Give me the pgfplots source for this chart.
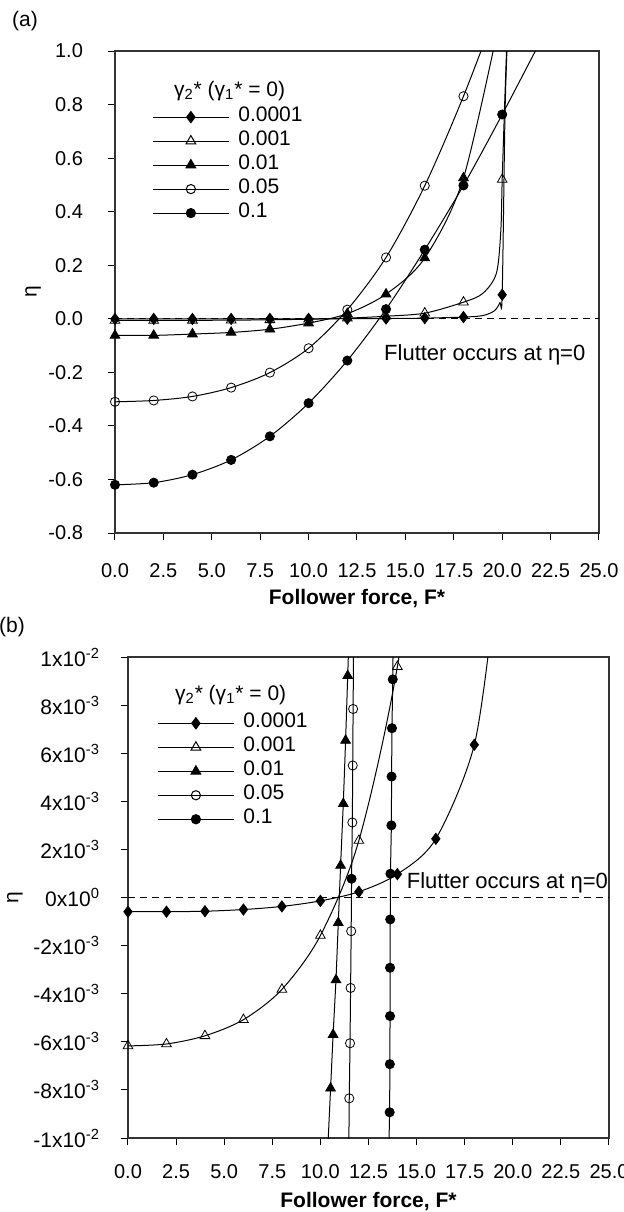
\documentclass[border=0pt]{standalone}
\usepackage{pgfplots}
\usepackage{pgfplotstable}
\pgfplotsset{compat=1.18}
\usepackage{fontspec}
\setmainfont{Liberation Sans}

% ---------------- panel (a) data ----------------
\pgfplotstableread{
F eta
0 -0.0006
2 -0.0006
4 -0.00057
6 -0.0005
8 -0.00037
10 -0.00014
12 0.00024
14 0.00097
16 0.00244
18 0.00635
20 0.0897
}\Aone
\pgfplotstableread{
F eta
0 -0.0006
2 -0.0006
4 -0.00057
6 -0.0005
8 -0.00037
10 -0.00014
12 0.00024
14 0.00097
16 0.00244
18 0.00635
19 0.012
19.6 0.03
19.88 0.06
20 0.0897
20.15 0.78
20.3 1.1
}\Aoneline
\pgfplotstableread{
F eta
0 -0.00617
2 -0.00609
4 -0.00575
6 -0.00508
8 -0.00382
10 -0.00158
12 0.00237
14 0.0096
16 0.021
18 0.062
20 0.52
}\Atwo
\pgfplotstableread{
F eta
0 -0.00617
2 -0.00609
4 -0.00575
6 -0.00508
8 -0.00382
10 -0.00158
12 0.00237
14 0.0096
16 0.021
18 0.062
19 0.095
19.7 0.17
19.93 0.33
20 0.52
20.15 0.85
20.3 1.15
}\Atwoline
\pgfplotstableread{
F eta
0 -0.062
2 -0.062
4 -0.057
6 -0.051
8 -0.039
10 -0.016
12 0.019
14 0.092
16 0.227
18 0.526
}\Athree
\pgfplotstableread{
F eta
0 -0.062
2 -0.062
4 -0.057
6 -0.051
8 -0.039
10 -0.016
12 0.019
14 0.092
16 0.227
18 0.526
20 1.16
}\Athreeline
\pgfplotstableread{
F eta
0 -0.310
2 -0.305
4 -0.290
6 -0.257
8 -0.201
10 -0.110
12 0.034
14 0.229
16 0.497
18 0.831
}\Afour
\pgfplotstableread{
F eta
0 -0.310
2 -0.305
4 -0.290
6 -0.257
8 -0.201
10 -0.110
12 0.034
14 0.229
16 0.497
18 0.831
20 1.21
}\Afourline
\pgfplotstableread{
F eta
0 -0.620
2 -0.612
4 -0.582
6 -0.527
8 -0.439
10 -0.315
12 -0.156
14 0.036
16 0.258
18 0.498
20 0.763
}\Afive
\pgfplotstableread{
F eta
0 -0.620
2 -0.612
4 -0.582
6 -0.527
8 -0.439
10 -0.315
12 -0.156
14 0.036
16 0.258
18 0.498
20 0.763
22 1.04
}\Afiveline

% ---------------- panel (b) data ----------------
\pgfplotstableread{
F eta
0 -0.00059
2 -0.00059
4 -0.00057
6 -0.00050
8 -0.00037
10 -0.00014
12 0.00024
14 0.00097
16 0.00244
18 0.00635
}\Bone
\pgfplotstableread{
F eta
0 -0.00059
2 -0.00059
4 -0.00057
6 -0.00050
8 -0.00037
10 -0.00014
12 0.00024
14 0.00097
16 0.00244
18 0.00635
19 0.012
}\Boneline
\pgfplotstableread{
F eta
0 -0.00617
2 -0.00609
4 -0.00575
6 -0.00508
8 -0.00382
10 -0.00158
12 0.00237
14 0.0096
}\Btwo
\pgfplotstableread{
F eta
0 -0.00617
2 -0.00609
4 -0.00575
6 -0.00508
8 -0.00382
10 -0.00158
12 0.00237
14 0.0096
16 0.021
}\Btwoline
\pgfplotstableread{
F eta
10.53 -0.00793
10.66 -0.00570
10.81 -0.00343
10.93 -0.00105
11.05 0.00133
11.19 0.00390
11.31 0.00653
11.42 0.00922
}\Bthree
\pgfplotstableread{
F eta
10.35 -0.011
10.53 -0.00793
10.66 -0.00570
10.81 -0.00343
10.93 -0.00105
11.05 0.00133
11.19 0.00390
11.31 0.00653
11.42 0.00922
11.50 0.0112
}\Bthreeline
\pgfplotstableread{
F eta
11.50 -0.00835
11.54 -0.00606
11.57 -0.00376
11.60 -0.00140
11.66 0.00312
11.68 0.00549
11.70 0.00784
}\Bfour
\pgfplotstableread{
F eta
11.62 0.00078
}\Bfourextra
\pgfplotstableread{
F eta
11.47 -0.011
11.50 -0.00835
11.54 -0.00606
11.57 -0.00376
11.60 -0.00140
11.62 0.00078
11.66 0.00312
11.68 0.00549
11.70 0.00784
11.73 0.011
}\Bfourline
\pgfplotstableread{
F eta
13.60 -0.00893
13.61 -0.00693
13.62 -0.00493
13.62 -0.00292
13.63 -0.00091
13.64 0.00099
13.69 0.00300
13.70 0.00503
13.72 0.00704
13.76 0.00907
}\Bfive
\pgfplotstableread{
F eta
13.54 -0.011
13.60 -0.00893
13.61 -0.00693
13.62 -0.00493
13.62 -0.00292
13.63 -0.00091
13.64 0.00099
13.69 0.00300
13.70 0.00503
13.72 0.00704
13.76 0.00907
13.79 0.011
}\Bfiveline

\pgfplotsset{
  panel/.style={
    scale only axis,
    xmin=0, xmax=25,
    xtick={0,2.5,5,7.5,10,12.5,15,17.5,20,22.5,25},
    xticklabels={0.0,2.5,5.0,7.5,10.0,12.5,15.0,17.5,20.0,22.5,25.0},
    tick align=outside, xtick pos=bottom, ytick pos=left,
    major tick length=3.5pt,
    axis line style={black!80, line width=0.7pt},
    tick style={black, line width=0.5pt},
    ticklabel style={font=\fontsize{10}{12}\selectfont},
    scaled y ticks=false,
    legend cell align=left,
    legend image code/.code={\draw[mark repeat=2,mark phase=2] plot coordinates {(0pt,0pt) (19pt,0pt) (38pt,0pt)};},
    legend style={draw=none, fill=none, font=\fontsize{10.5}{12}\selectfont,
      inner sep=0pt, column sep=4.5pt, row sep=0pt,
      nodes={inner sep=0pt, text height=8pt, text depth=4pt}},
    xlabel={\bfseries Follower force, F*},
    label style={font=\fontsize{10.5}{12}\selectfont},
    ylabel={η},
  },
  ln/.style={black, line width=0.5pt, forget plot},
  m1/.style={black, mark=diamond*, mark size=2.8pt, mark options={solid, fill=black}},
  m2/.style={black, mark=triangle, mark size=2.8pt, mark options={solid, fill=white}},
  m3/.style={black, mark=triangle*, mark size=2.8pt, mark options={solid, fill=black}},
  m4/.style={black, mark=o, mark size=2.3pt, mark options={solid, fill=white}},
  m5/.style={black, mark=*, mark size=2.3pt, mark options={solid, fill=black}},
}

\begin{document}
\begin{tikzpicture}
\useasboundingbox (0,0) rectangle (311.5pt,-606pt);
\node[font=\fontsize{10.5}{12}\selectfont] at (12.5pt,-10.5pt) {(a)};
\node[font=\fontsize{10.5}{12}\selectfont] at (6pt,-313.5pt) {(b)};

% ================= panel (a) =================
\begin{axis}[panel,
  at={(57.5pt,-266.5pt)}, anchor=south west,
  width=242pt, height=241pt,
  ymin=-0.8, ymax=1.0,
  ytick={-0.8,-0.6,-0.4,-0.2,0,0.2,0.4,0.6,0.8,1.0},
  yticklabels={-0.8,-0.6,-0.4,-0.2,0.0,0.2,0.4,0.6,0.8,1.0},
  yticklabel style={xshift=-9pt},
  xticklabel style={yshift=-7.7pt, text height=7.5pt, text depth=0pt},
  xlabel style={at={(axis description cs:0.5,-0.135)}, anchor=center},
  ylabel style={at={(axis description cs:-0.169,0.5)}, anchor=center},
  legend style={at={(axis description cs:0.0764,0.8886)}, anchor=north west},
]
\addplot[ln, dash pattern=on 3.5pt off 2.5pt] coordinates {(0,0) (25,0)};
\addplot[ln, smooth] table[x=F,y=eta] {\Aoneline};
\addplot[ln, smooth] table[x=F,y=eta] {\Atwoline};
\addplot[ln, smooth] table[x=F,y=eta] {\Athreeline};
\addplot[ln, smooth] table[x=F,y=eta] {\Afourline};
\addplot[ln, smooth] table[x=F,y=eta] {\Afiveline};
\addplot[m1, only marks, forget plot] table[x=F,y=eta] {\Aone};
\addplot[m2, only marks, forget plot] table[x=F,y=eta] {\Atwo};
\addplot[m3, only marks, forget plot] table[x=F,y=eta] {\Athree};
\addplot[m4, only marks, forget plot] table[x=F,y=eta] {\Afour};
\addplot[m5, only marks, forget plot] table[x=F,y=eta] {\Afive};
\addlegendimage{m1, line width=0.5pt}\addlegendentry{0.0001}
\addlegendimage{m2, line width=0.5pt}\addlegendentry{0.001}
\addlegendimage{m3, line width=0.5pt}\addlegendentry{0.01}
\addlegendimage{m4, line width=0.5pt}\addlegendentry{0.05}
\addlegendimage{m5, line width=0.5pt}\addlegendentry{0.1}
\node[anchor=base west, font=\fontsize{10.5}{12}\selectfont] at (axis description cs:0.1074,0.9066) {γ\textsubscript{2}* (γ\textsubscript{1}* = 0)};
\node[font=\fontsize{11}{13}\selectfont] at (axis cs:19.1,-0.135) {Flutter occurs at η=0};
\end{axis}

% ================= panel (b) =================
\begin{axis}[panel,
  at={(64pt,-569pt)}, anchor=south west,
  width=240.5pt, height=240.5pt,
  ymin=-0.01, ymax=0.01,
  ytick={-0.01,-0.008,-0.006,-0.004,-0.002,0,0.002,0.004,0.006,0.008,0.01},
  yticklabels={-1x10\textsuperscript{-2},-8x10\textsuperscript{-3},-6x10\textsuperscript{-3},-4x10\textsuperscript{-3},-2x10\textsuperscript{-3},0x10\textsuperscript{0},2x10\textsuperscript{-3},4x10\textsuperscript{-3},6x10\textsuperscript{-3},8x10\textsuperscript{-3},1x10\textsuperscript{-2}},
  yticklabel style={xshift=-7pt, font=\fontsize{10.5}{12}\selectfont},
  xticklabel style={yshift=-5.5pt, text height=7.5pt, text depth=0pt},
  xlabel style={at={(axis description cs:0.5,-0.131)}, anchor=center},
  ylabel style={at={(axis description cs:-0.235,0.5)}, anchor=center},
  legend style={at={(axis description cs:0.0603,0.888)}, anchor=north west},
]
\addplot[ln, dash pattern=on 3.5pt off 2.5pt] coordinates {(0,0) (25,0)};
\addplot[ln, smooth] table[x=F,y=eta] {\Boneline};
\addplot[ln, smooth] table[x=F,y=eta] {\Btwoline};
\addplot[ln] table[x=F,y=eta] {\Bthreeline};
\addplot[ln] table[x=F,y=eta] {\Bfourline};
\addplot[ln] table[x=F,y=eta] {\Bfiveline};
\addplot[m1, only marks, forget plot] table[x=F,y=eta] {\Bone};
\addplot[m2, only marks, forget plot] table[x=F,y=eta] {\Btwo};
\addplot[m3, only marks, forget plot] table[x=F,y=eta] {\Bthree};
\addplot[m4, only marks, forget plot] table[x=F,y=eta] {\Bfour};
\addplot[m5, only marks, forget plot] table[x=F,y=eta] {\Bfourextra};
\addplot[m5, only marks, forget plot] table[x=F,y=eta] {\Bfive};
\addlegendimage{m1, line width=0.5pt}\addlegendentry{0.0001}
\addlegendimage{m2, line width=0.5pt}\addlegendentry{0.001}
\addlegendimage{m3, line width=0.5pt}\addlegendentry{0.01}
\addlegendimage{m4, line width=0.5pt}\addlegendentry{0.05}
\addlegendimage{m5, line width=0.5pt}\addlegendentry{0.1}
\node[anchor=base west, font=\fontsize{10.5}{12}\selectfont] at (axis description cs:0.0832,0.9106) {γ\textsubscript{2}* (γ\textsubscript{1}* = 0)};
\node[font=\fontsize{11}{13}\selectfont] at (axis cs:19.72,0.00062) {Flutter occurs at η=0};
\end{axis}
\end{tikzpicture}
\end{document}
